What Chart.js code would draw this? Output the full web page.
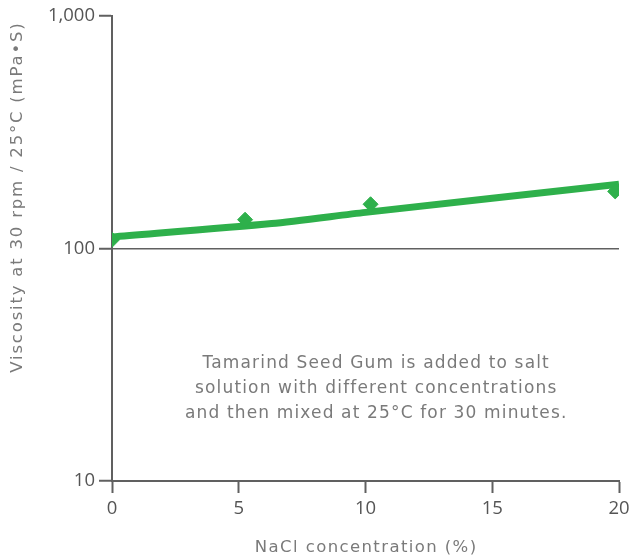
<!DOCTYPE html>
<html>
<head>
<meta charset="utf-8">
<script src="https://cdn.jsdelivr.net/npm/chart.js@4/dist/chart.umd.min.js"></script>
<style>
  html, body { margin: 0; padding: 0; background: #fff; }
  #wrap { width: 630px; height: 560px; position: relative; }
</style>
</head>
<body>
<div id="wrap"><canvas id="c" width="630" height="560"></canvas></div>
<script>
// Measured viscosity (mPa·S) at each NaCl concentration (%)
const naclPct   = [0, 5.25, 10.2, 19.85];
const viscosity = [109, 133, 155, 176];

// Smoothed trend through the measurements
const trendPct  = [0, 6.3, 10, 20];
const trendVisc = [112, 128, 143, 189];

// Axis ticks
const yTicks = [10, 100, 1000];
const xTicks = [0, 5, 10, 15, 20];

const xTitle = 'NaCl concentration (%)';
const yTitle = 'Viscosity at 30 rpm / 25°C (mPa•S)';
const note = [
  'Tamarind Seed Gum is added to salt',
  'solution with different concentrations',
  'and then mixed at 25°C for 30 minutes.'
];

const GREEN = '#2eb04b';
const AXIS = '#606060';
const TEXT = '#7a7a7a';
const FONT = '"DejaVu Sans", "Open Sans", sans-serif';
const TICK_FONT = '"Open Sans", "DejaVu Sans", sans-serif';

// draws a line of tracked text centred on x
function spacedText(ctx, str, x, y, spacing) {
  ctx.letterSpacing = spacing + 'px';
  const w = ctx.measureText(str).width - spacing;
  ctx.textAlign = 'left';
  ctx.fillText(str, x - w / 2, y);
  ctx.letterSpacing = '0px';
}

const textPlugin = {
  id: 'texts',
  afterDraw(chart) {
    const { ctx, chartArea: a } = chart;
    ctx.save();
    ctx.fillStyle = TEXT;
    ctx.textBaseline = 'middle';

    // explanatory note
    ctx.font = '17px ' + FONT;
    const cx = a.left + (a.right - a.left) * 0.52;
    note.forEach((line, i) => spacedText(ctx, line, cx, 364 + i * 25, 1.15));

    // x-axis title
    ctx.font = '16.5px ' + FONT;
    spacedText(ctx, xTitle, a.left + (a.right - a.left) * 0.5, 548, 1.4);

    // y-axis title
    ctx.translate(18, 198);
    ctx.rotate(-Math.PI / 2);
    spacedText(ctx, yTitle, 0, 0, 1.8);
    ctx.restore();
  }
};

new Chart(document.getElementById('c'), {
  type: 'scatter',
  data: {
    datasets: [
      {
        label: 'trend',
        data: trendPct.map((x, i) => ({ x, y: trendVisc[i] })),
        showLine: true,
        borderColor: GREEN,
        borderWidth: 7,
        pointRadius: 0,
        tension: 0.25,
        borderCapStyle: 'butt',
        borderJoinStyle: 'round',
        order: 2
      },
      {
        label: 'measured',
        data: naclPct.map((x, i) => ({ x, y: viscosity[i] })),
        showLine: false,
        pointStyle: 'rectRot',
        pointRadius: 7.5,
        backgroundColor: GREEN,
        borderColor: GREEN,
        borderWidth: 1,
        order: 1
      }
    ]
  },
  options: {
    responsive: false,
    animation: false,
    layout: { padding: { top: 16, right: 11, left: 0, bottom: 0 } },
    plugins: {
      legend: { display: false },
      tooltip: { enabled: false }
    },
    scales: {
      x: {
        type: 'linear',
        min: 0,
        max: 20,
        afterBuildTicks(scale) { scale.ticks = xTicks.map(v => ({ value: v })); },
        afterFit(scale) {
          scale.height = 79;
          scale.paddingRight = 0;
          scale.paddingLeft = 0;
        },
        border: { color: AXIS, width: 2 },
        grid: { drawOnChartArea: false, tickLength: 12, tickColor: AXIS, tickWidth: 2 },
        ticks: { color: '#555', font: { size: 18.5, family: TICK_FONT }, padding: 5, maxRotation: 0 }
      },
      y: {
        type: 'logarithmic',
        min: 10,
        max: 1000,
        afterBuildTicks(scale) { scale.ticks = yTicks.map(v => ({ value: v })); },
        afterFit(scale) { scale.width = 112; },
        border: { color: AXIS, width: 2 },
        grid: {
          color: ctx => (ctx.tick && ctx.tick.value === 100 ? AXIS : 'rgba(0,0,0,0)'),
          lineWidth: 1.5,
          tickLength: 13,
          tickColor: AXIS,
          tickWidth: 2
        },
        ticks: {
          color: '#555',
          font: { size: 18.5, family: TICK_FONT },
          padding: 4,
          callback: v => v.toLocaleString('en-US')
        }
      }
    }
  },
  plugins: [textPlugin]
});
</script>
</body>
</html>
